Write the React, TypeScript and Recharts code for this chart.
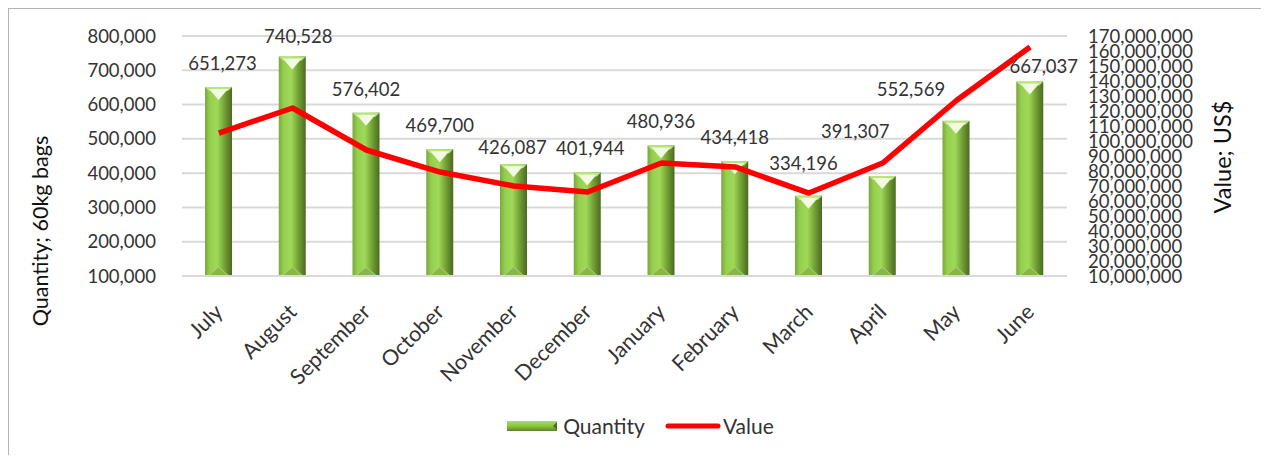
import {
  ComposedChart,
  Bar,
  Line,
  XAxis,
  YAxis,
  CartesianGrid,
  Legend,
  LabelList,
} from 'recharts';

const months = [
  'July',
  'August',
  'September',
  'October',
  'November',
  'December',
  'January',
  'February',
  'March',
  'April',
  'May',
  'June',
];

// bags of 60kg
const quantity = [
  651273, 740528, 576402, 469700, 426087, 401944, 480936, 434418, 334196, 391307, 552569, 667037,
];

// US$
const value = [
  105300000, 122000000, 94000000, 79300000, 70000000, 66000000, 85300000, 82700000, 65300000,
  85300000, 127000000, 162700000,
];

const leftTicks = [100000, 200000, 300000, 400000, 500000, 600000, 700000, 800000];
const rightTicks = [
  10000000, 20000000, 30000000, 40000000, 50000000, 60000000, 70000000, 80000000, 90000000,
  100000000, 110000000, 120000000, 130000000, 140000000, 150000000, 160000000, 170000000,
];

const data = months.map((month, i) => ({
  month,
  quantity: quantity[i],
  value: value[i],
}));

const FONT = 'Lato, "Open Sans", sans-serif';
const TEXT = '#333333';
const fmt = (v: number) => v.toLocaleString('en-US');

// hand-moved data labels in the original (dx, dy in px)
const labelNudge: Record<string, [number, number]> = {
  July: [4, 0],
  August: [6, 4],
  November: [-1, 7],
  December: [3, 0],
  March: [-5, -9],
  April: [-27, -21],
  May: [-45, -8],
  June: [14, 8],
};

/** Beveled green column like the Excel preset */
function BevelBar(props: any) {
  const { x, y, width, height } = props;
  if (!height || height <= 0) return null;
  const cx = x + width / 2;
  return (
    <g>
      <rect x={x} y={y} width={width} height={height} fill="url(#barBody)" />
      <polygon
        points={`${x},${y} ${x + width},${y} ${x + width - 4},${y + 4} ${x + 4},${y + 4}`}
        fill="#b6e57a"
      />
      <polygon
        points={`${x + 4},${y + 2} ${x + width - 4},${y + 2} ${cx},${y + 13}`}
        fill="#f2fae0"
      />
      <polygon
        points={`${x + 3},${y + height} ${x + width - 3},${y + height} ${cx},${y + height - 9}`}
        fill="#86b748"
        stroke="#a9d66c"
        strokeWidth={1}
      />
    </g>
  );
}

function BarLabel(props: any) {
  const { x, y, width, value, index } = props;
  const [dx, dy] = labelNudge[months[index]] || [0, 0];
  return (
    <text
      x={x + width / 2 + dx}
      y={y - 24 + dy}
      textAnchor="middle"
      dominantBaseline="central"
      fontSize={18.5}
      fontFamily={FONT}
      fill={TEXT}
    >
      {fmt(Number(value))}
    </text>
  );
}

function MonthTick(props: any) {
  const { x, y, payload } = props;
  const ax = x + 0;
  const ay = y + 24;
  return (
    <text
      x={ax}
      y={ay}
      transform={`rotate(-45, ${ax}, ${ay})`}
      textAnchor="end"
      dy="0.35em"
      fontSize={21.5}
      fontFamily={FONT}
      fill={TEXT}
    >
      {payload.value}
    </text>
  );
}

function LegendContent() {
  return (
    <div
      style={{
        display: 'flex',
        justifyContent: 'center',
        alignItems: 'center',
        gap: 20,
        fontFamily: FONT,
        fontSize: 21,
        color: TEXT,
        paddingTop: 8,
        paddingLeft: 6,
      }}
    >
      <div style={{ display: 'flex', alignItems: 'center', gap: 6 }}>
        <svg width={50} height={12}>
          <defs>
            <linearGradient id="legBar" x1="0" y1="0" x2="0" y2="1">
              <stop offset="0%" stopColor="#a6dc62" />
              <stop offset="50%" stopColor="#8cc63f" />
              <stop offset="100%" stopColor="#5c8229" />
            </linearGradient>
          </defs>
          <rect x={0} y={1} width={50} height={10} fill="url(#legBar)" />
          <polygon points="46,6 50,2 50,10" fill="#4c6b22" />
        </svg>
        <span>Quantity</span>
      </div>
      <div style={{ display: 'flex', alignItems: 'center', gap: 2 }}>
        <svg width={56} height={12}>
          <line x1={3} y1={6} x2={53} y2={6} stroke="#ff0000" strokeWidth={5} strokeLinecap="round" />
        </svg>
        <span>Value</span>
      </div>
    </div>
  );
}

export default function App() {
  return (
    <div style={{ position: 'relative', width: 1259, height: 447, background: '#fff' }}>
      <div
        style={{
          position: 'absolute',
          left: -1,
          top: -1,
          width: 1258,
          height: 470,
          border: '2px solid #b4b4b4',
          boxSizing: 'content-box',
          pointerEvents: 'none',
        }}
      />
      <ComposedChart
        width={1259}
        height={447}
        data={data}
        margin={{ top: 28, right: 0, bottom: 0, left: 0 }}
        barCategoryGap="63%"
      >
        <defs>
          <linearGradient id="barBody" x1="0" y1="0" x2="1" y2="0">
            <stop offset="0%" stopColor="#7aa83a" />
            <stop offset="18%" stopColor="#94cf4e" />
            <stop offset="45%" stopColor="#a0d95a" />
            <stop offset="72%" stopColor="#74a236" />
            <stop offset="100%" stopColor="#4a6a21" />
          </linearGradient>
        </defs>
        <CartesianGrid yAxisId="left" vertical={false} stroke="#d9d9d9" strokeWidth={2} />
        <XAxis
          dataKey="month"
          height={129}
          interval={0}
          axisLine={{ stroke: '#d9d9d9', strokeWidth: 2 }}
          tickLine={false}
          tick={<MonthTick />}
        />
        <YAxis
          yAxisId="left"
          width={174}
          domain={[100000, 800000]}
          ticks={leftTicks}
          interval={0}
          axisLine={false}
          tickLine={false}
          tickSize={0}
          tickMargin={26}
          tickFormatter={fmt}
          tick={{ fontSize: 18.5, fontFamily: FONT, fill: TEXT }}
        />
        <YAxis
          yAxisId="right"
          orientation="right"
          width={200}
          domain={[10000000, 170000000]}
          ticks={rightTicks}
          interval={0}
          axisLine={false}
          tickLine={false}
          tickSize={0}
          tickMargin={21}
          tickFormatter={fmt}
          tick={{ fontSize: 18.5, fontFamily: FONT, fill: TEXT }}
        />
        <Legend verticalAlign="bottom" height={50} content={<LegendContent />} />
        <Bar
          yAxisId="left"
          dataKey="quantity"
          name="Quantity"
          barSize={27}
          shape={<BevelBar />}
          isAnimationActive={false}
        >
          <LabelList dataKey="quantity" content={<BarLabel />} />
        </Bar>
        <Line
          yAxisId="right"
          dataKey="value"
          name="Value"
          type="linear"
          stroke="#ff0000"
          strokeWidth={5.5}
          strokeLinejoin="round"
          dot={false}
          activeDot={false}
          isAnimationActive={false}
        />
        {/* axis titles, placed by hand */}
        <text
          x={32}
          y={223}
          transform="rotate(-90, 32, 223)"
          textAnchor="middle"
          dominantBaseline="central"
          fontSize={21.5}
          fontFamily={FONT}
          fill="#111"
        >
          Quantity; 60kg bags
        </text>
        <text
          x={1214}
          y={149}
          transform="rotate(-90, 1214, 149)"
          textAnchor="middle"
          dominantBaseline="central"
          fontSize={23.5}
          fontFamily={FONT}
          fill="#111"
        >
          Value; US$
        </text>
      </ComposedChart>
    </div>
  );
}
